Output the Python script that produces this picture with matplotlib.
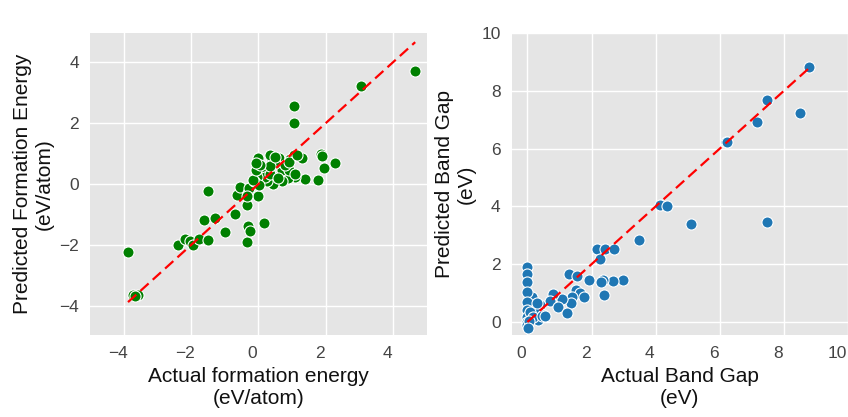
import matplotlib
matplotlib.use("Agg")
import matplotlib.pyplot as plt
import matplotlib.transforms as mtransforms

plt.rcParams['font.family'] = ['Liberation Sans', 'DejaVu Sans']

# formation energy (eV/atom): actual vs predicted
fe_actual = [-3.87, -3.72, -3.57, -3.67, -2.39, -2.19, -2.02, -1.95, -1.77, -1.48,
             -1.62, -1.30, -1.50, -0.98, -0.68, -0.35, -0.31, -0.25, 0.16, -0.35,
             -0.63, -0.53, -0.30, -0.28, -0.01, 0.00, 0.39, 0.36, 0.62, 0.94,
             1.07, 1.07, 1.29, 1.05, 1.86, 1.89, 1.94, 2.28, 1.77, 1.38,
             1.08, 0.88, 0.70, 0.50, 0.45, 0.25, 0.15, 0.20, 0.35, 0.70,
             0.90, 1.10, -0.03, -0.13, 0.01, -0.16, -0.06, 0.50, 0.36, 0.79,
             0.59, 0.06, -0.06, 0.90, 0.50, -0.33, 4.66, 3.06, 1.15]
fe_pred = [-2.21, -3.65, -3.65, -3.68, -1.99, -1.80, -1.87, -1.99, -1.80, -1.84,
           -1.17, -1.11, -0.22, -1.57, -0.98, -1.90, -1.37, -1.55, -1.28, -0.68,
           -0.37, -0.08, -0.30, -0.14, -0.38, 0.85, 0.87, 0.95, 0.85, 0.83,
           2.58, 2.00, 0.85, 0.95, 0.98, 0.91, 0.52, 0.71, 0.14, 0.17,
           0.24, 0.19, 0.09, 0.24, 0.02, 0.09, 0.56, 0.24, 0.35, 0.46,
           0.46, 0.35, 0.24, 0.09, -0.02, 0.14, 0.46, 0.68, 0.58, 0.63,
           0.19, 0.63, 0.68, 0.74, 0.90, -0.38, 3.72, 3.23, 0.95]

# band gap (eV): actual vs predicted
bg_actual = [8.79, 7.46, 7.17, 8.50, 6.19, 6.24, 7.46, 4.13, 4.37, 5.10,
             3.49, 2.16, 2.43, 2.71, 2.27, 2.99, 2.66, 2.37, 2.29, 2.40,
             1.92, 1.31, 1.54, 1.52, 1.64, 1.77, 1.38, 1.35, 1.07, 0.81,
             0.71, 0.97, 1.23, 0.40, 0.34, 0.50, 0.34, 0.14, 0.00, 0.00,
             0.00, 0.00, 0.00, 0.00, 0.00, 0.00, 0.00, 0.08, 0.19, 0.45,
             0.55, 0.29, 0.05, 0.02]
bg_pred = [8.84, 7.68, 6.93, 7.22, 6.24, 6.22, 3.47, 4.05, 4.03, 3.38,
           2.84, 2.53, 2.53, 2.53, 2.18, 1.45, 1.42, 1.45, 1.37, 0.93,
           1.45, 1.66, 1.59, 1.11, 0.99, 0.88, 0.88, 0.67, 0.78, 0.96,
           0.73, 0.53, 0.32, 0.59, 0.37, 0.25, 0.07, 0.88, 1.91, 1.66,
           1.39, 1.05, 0.70, 0.41, 0.18, 0.00, -0.12, 0.35, 0.18, 0.20,
           0.22, 0.65, 0.05, -0.20]

fig = plt.figure(figsize=(8.48, 4.17), dpi=100)
ax1 = fig.add_axes([0.1061, 0.1966, 0.397, 0.7242])
ax2 = fig.add_axes([0.6034, 0.1966, 0.3966, 0.7242])

panels = [
    (ax1, fe_actual, fe_pred, "green", (-5, 5), (-4.95, 4.96),
     "Actual formation energy\n(eV/atom)", "Predicted Formation Energy\n(eV/atom)"),
    (ax2, bg_actual, bg_pred, "#1f77b4", (-0.49, 10.0), (-0.45, 10.0),
     "Actual Band Gap\n(eV)", "Predicted Band Gap\n(eV)"),
]

for ax, xa, yp, col, xl, yl, xlab, ylab in panels:
    ax.set_facecolor("#E5E5E5")
    ax.grid(True, color="white", lw=1.0)
    ax.set_axisbelow(True)
    for s in ax.spines.values():
        s.set_visible(False)
    ax.scatter(xa, yp, s=64, c=col, edgecolors="white", linewidths=0.8, zorder=3)
    lo, hi = min(xa), max(xa)
    ax.plot([lo, hi], [lo, hi], "r--", lw=1.6, dashes=(5, 2.5), zorder=4)
    ax.set_xlim(*xl)
    ax.set_ylim(*yl)
    ax.tick_params(length=0, labelsize=12.5, labelcolor="#444444", pad=8)
    ax.set_xlabel(xlab, fontsize=15, color="#111111", labelpad=4)
    ax.set_ylabel(ylab, fontsize=15, color="#111111", labelpad=4)

ax1.set_xticks([-4, -2, 0, 2, 4])
ax1.set_yticks([-4, -2, 0, 2, 4])
ax2.set_xticks([0, 2, 4, 6, 8, 10])
ax2.set_yticks([0, 2, 4, 6, 8, 10])

# tick labels sit slightly left of their grid lines in the reference
shift = mtransforms.ScaledTranslation(-6 / 100, 0, fig.dpi_scale_trans)
for ax in (ax1, ax2):
    for lbl in ax.get_xticklabels():
        lbl.set_transform(lbl.get_transform() + shift)
# keep the last "10" inside the figure edge
last = ax2.get_xticklabels()[-1]
last.set_transform(last.get_transform()
                   + mtransforms.ScaledTranslation(-5 / 100, 0, fig.dpi_scale_trans))

fig.savefig("out.png", dpi=100, facecolor="white")
